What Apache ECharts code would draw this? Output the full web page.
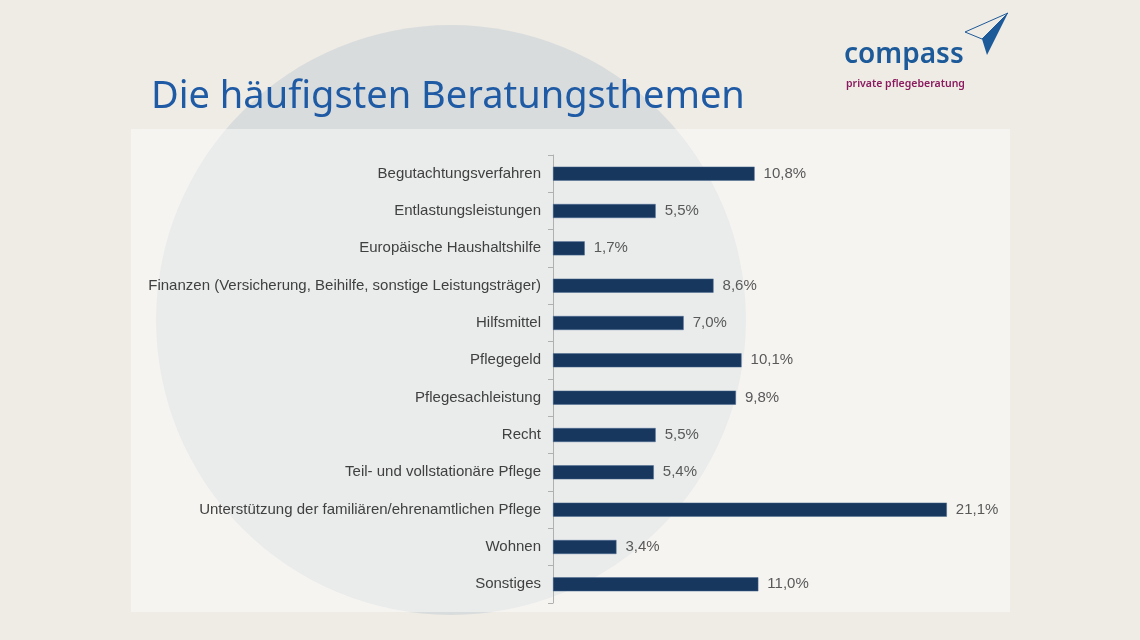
<!DOCTYPE html>
<html><head><meta charset="utf-8">
<script src="https://cdn.jsdelivr.net/npm/echarts@6/dist/echarts.min.js"></script>
<style>html,body{margin:0;padding:0;background:#efebe5;}#c{width:1140px;height:640px;}</style>
</head><body><div id="c"></div>
<script>
const categories = ["Begutachtungsverfahren","Entlastungsleistungen","Europäische Haushaltshilfe","Finanzen (Versicherung, Beihilfe, sonstige Leistungsträger)","Hilfsmittel","Pflegegeld","Pflegesachleistung","Recht","Teil- und vollstationäre Pflege","Unterstützung der familiären/ehrenamtlichen Pflege","Wohnen","Sonstiges"];
const values = [10.8,5.5,1.7,8.6,7.0,10.1,9.8,5.5,5.4,21.1,3.4,11.0];
const titleText = "Die häufigsten Beratungsthemen";

const chart = echarts.init(document.getElementById('c'));
chart.setOption({
  backgroundColor: '#efebe5',
  animation: false,
  graphic: [
    {type:'circle', z:-10, shape:{cx:451, cy:320, r:295}, style:{fill:'#d8dcdc'}},
    {type:'rect', z:-9, shape:{x:131, y:129, width:879, height:483}, style:{fill:'rgba(255,255,255,0.47)'}},
    {type:'text', left:151, top:78, style:{text:titleText, fill:'#1f5aa5', font:'38px "Noto Sans"'}},
    {type:'text', left:844, top:41, style:{text:'compass', fill:'#1d5a99', font:'600 28px "Noto Sans"'}},
    {type:'text', left:846, top:79, style:{text:'private pflegeberatung', fill:'#8a1b5f', font:'600 10.5px "Noto Sans"'}},
    {type:'polygon', shape:{points:[[965,32],[1008,13],[982,39]]}, style:{fill:'none', stroke:'#1d5a99', lineWidth:1}},
    {type:'polygon', shape:{points:[[982,39],[1008,13],[987,55]]}, style:{fill:'#1d5a99'}}
  ],
  grid: {left:553, top:155, width:448, height:448, containLabel:false},
  xAxis: {type:'value', min:0, max:24, show:false},
  yAxis: {
    type:'category', data:categories, inverse:true,
    axisLine:{show:true, lineStyle:{color:'#b0b0b0', width:1}},
    axisTick:{show:true, length:5, lineStyle:{color:'#b0b0b0'}},
    axisLabel:{color:'#404040', fontFamily:'Liberation Sans, Arial', fontSize:15, margin:12, padding:[3,0,0,0]}
  },
  series: [{
    type:'bar', data:values, barWidth:14,
    itemStyle:{color:'#17375e', borderColor:'#4a6a90', borderWidth:0.5},
    label:{show:true, position:'right', distance:9, color:'#595959', fontFamily:'Liberation Sans, Arial', fontSize:15, padding:[3,0,0,0],
      formatter: p => p.value.toFixed(1).replace('.', ',') + '%'}
  }]
});
</script></body></html>
